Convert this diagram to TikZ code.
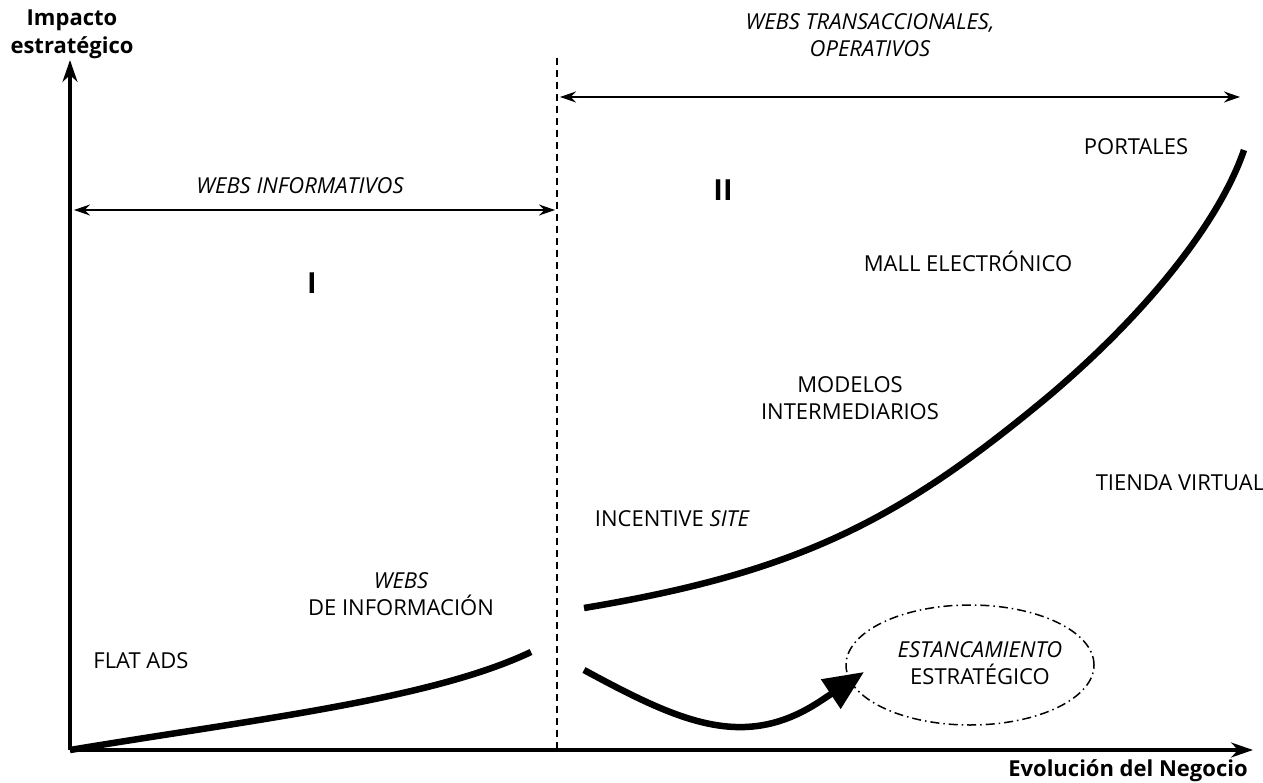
\documentclass[tikz,border=0pt]{standalone}
\usepackage{fontspec}
\setmainfont{Open Sans}
\usetikzlibrary{arrows.meta,shapes.geometric}
\begin{document}
\begin{tikzpicture}[x=1pt,y=-1pt,
  lbl/.style={font=\fontsize{22}{27}\selectfont, align=center, inner sep=0pt},
  axlbl/.style={font=\bfseries\fontsize{22}{28}\selectfont, align=center, inner sep=0pt},
  roman/.style={font=\bfseries\fontsize{29}{29}\selectfont, inner sep=0pt},
  axis/.style={line width=3.5pt, -{Stealth[length=22pt,width=15pt]}},
  span/.style={line width=1.2pt, {Stealth[length=16pt,width=11pt]}-{Stealth[length=16pt,width=11pt]}},
  curve/.style={line width=6.5pt},
  divider/.style={line width=1.8pt, dash pattern=on 7pt off 5pt},
  stall/.style={draw, ellipse, line width=1.5pt, dash pattern=on 9pt off 4pt on 1.5pt off 4pt,
    minimum width=248pt, minimum height=120pt, inner sep=0pt}
]
\useasboundingbox (0,0) rectangle (1263,783);
% coordinates
\coordinate (O) at (70,750);
\coordinate (ytop) at (70,60);
\coordinate (xend) at (1253,750);
\coordinate (dtop) at (557,58);
\coordinate (dbot) at (557,750);
\coordinate (tl) at (560,97);
\coordinate (tr) at (1240,97);
\coordinate (ll) at (74,210);
\coordinate (lr) at (555,210);
% axes
\draw[axis] (O) -- (ytop);
\draw[axis] (O) -- (xend);
\draw[divider] (dtop) -- (dbot);
\draw[span] (tl) -- (tr);
\draw[span] (ll) -- (lr);
% axis labels
\node[axlbl] (ylab) at (72,34) {Impacto\\estratégico};
\node[axlbl] (xlab) at (1128,771) {Evolución del Negocio};
% span labels
\node[lbl] (trans) at (870,35) {\itshape WEBS TRANSACCIONALES,\\\itshape OPERATIVOS};
\node[lbl] (info) at (300,186) {\itshape WEBS INFORMATIVOS};
\node[roman] (rI) at (312,283) {I};
\node[roman] (rII) at (723,190) {II};
% stage labels
\node[lbl] (portales) at (1136,147) {PORTALES};
\node[lbl] (mall) at (968,261) {MALL ELECTRÓNICO};
\node[lbl] (modelos) at (850,398) {MODELOS\\INTERMEDIARIOS};
\node[lbl] (tienda) at (1180,483) {TIENDA VIRTUAL};
\node[lbl] (incent) at (672,519) {INCENTIVE \itshape SITE};
\node[lbl] (webinfo) at (401,594) {\itshape WEBS\\DE INFORMACIÓN};
\node[lbl] (flat) at (141,661) {FLAT ADS};
% stagnation ellipse
\node[stall] (stall) at (970,665) {};
\node[lbl] (stalltxt) at (980,663) {\itshape ESTANCAMIENTO\\ESTRATÉGICO};
% curves
\coordinate (c1e) at (531,652);
\coordinate (c2s) at (584,608);
\coordinate (c2e) at (1244,150);
\coordinate (c3s) at (584,670);
\coordinate (c3e) at (864,672);
\draw[curve] (O) .. controls (250,720) and (430,700) .. (c1e);
\draw[curve] (c2s) .. controls (800,572) and (900,520) .. (1050,395)
  .. controls (1150,310) and (1220,220) .. (c2e);
\draw[curve, -{Triangle[length=40pt,width=34pt]}] (c3s) .. controls (680,722) and (745,752) .. (822,700)
  -- (c3e);
\end{tikzpicture}
\end{document}
